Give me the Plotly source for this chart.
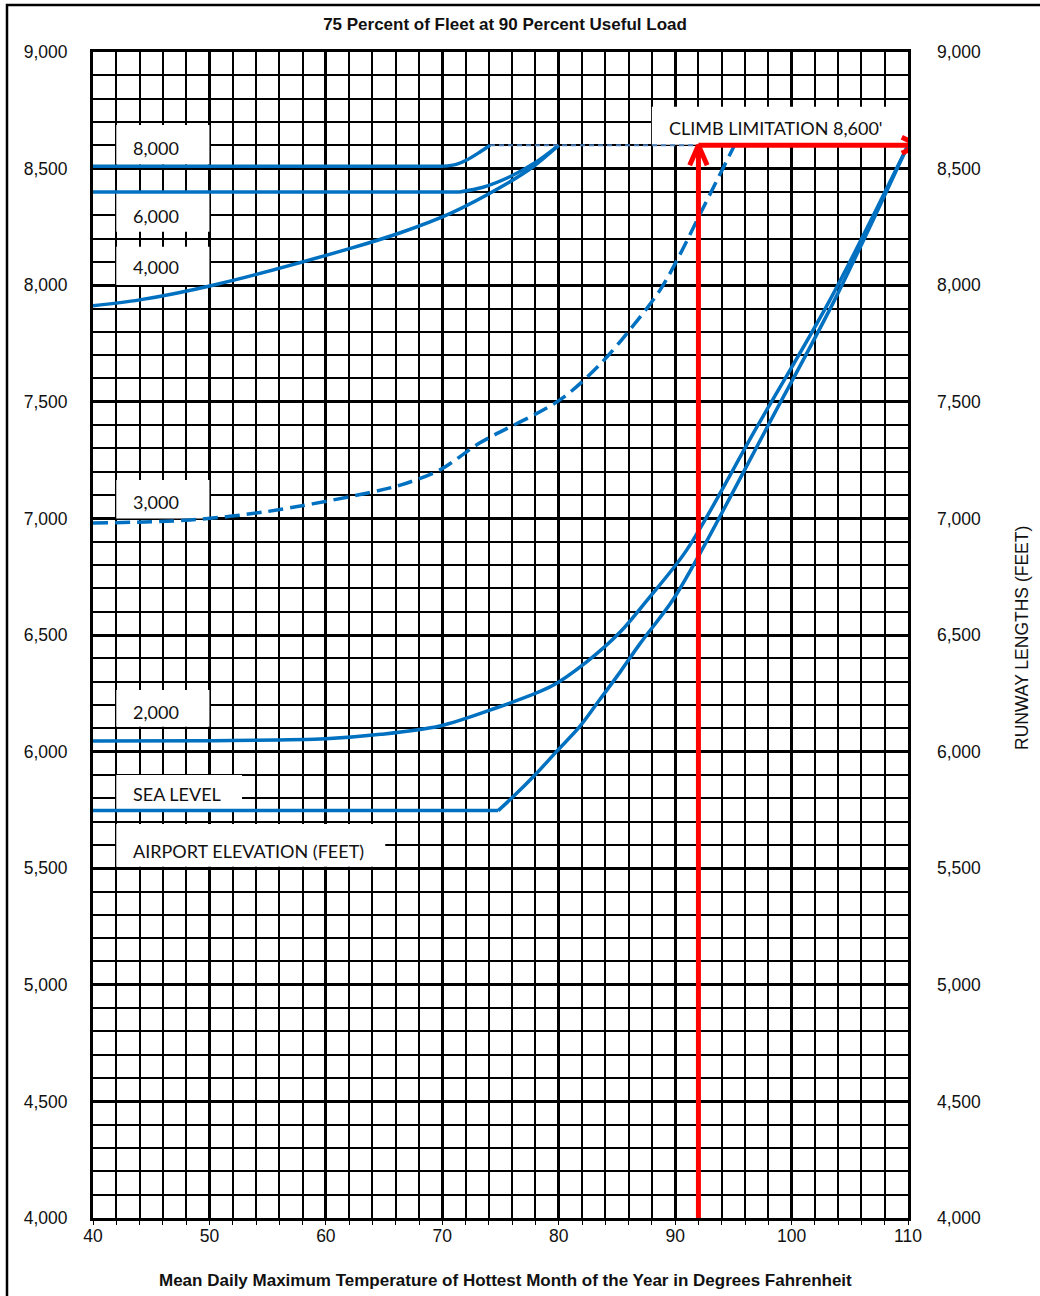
import plotly.graph_objects as go

# ---- Runway length curves (temperature in deg F, runway length in feet) ----
# sea level: flat run, then the rising branch from the corner at 74.8 F
sea_flat_temp = [40, 60, 70, 74.8]
sea_flat_len = [5747, 5747, 5747, 5747]
sea_rise_temp = [74.8, 76.1, 78.1, 79.8, 81.8, 83.5, 85.3, 87.0, 89.8, 92.3, 98.0, 103.7, 110]
sea_rise_len = [5747, 5807, 5907, 6000, 6107, 6221, 6343, 6464, 6650, 6865, 7400, 7937, 8600]

elev2000_temp = [40, 50, 60, 64.7, 69.8, 74.1, 79.4, 82.4, 85.3, 87.6, 91.0, 97.0, 103.3, 110]
elev2000_len = [6045, 6047, 6055, 6074, 6110, 6178, 6281, 6385, 6514, 6650, 6865, 7390, 7937, 8600]

elev3000_temp = [40, 48.3, 54.9, 63.5, 66.4, 69.8, 73.2, 80.1, 83.5, 86.1, 88.7, 90.4, 92.1, 95.1]
elev3000_len = [6980, 6993, 7029, 7108, 7143, 7208, 7323, 7508, 7658, 7808, 7979, 8130, 8301, 8600]

elev4000_temp = [40, 44, 50.3, 62.1, 66.4, 70.7, 75.0, 77.8, 80.0]
elev4000_len = [7912, 7937, 8000, 8158, 8225, 8308, 8420, 8508, 8600]

# 6,000 ft and 8,000 ft: flat runs, then the bends up to the climb limit
elev6000_flat_temp = [40, 60, 71.5]
elev6000_flat_len = [8400, 8400, 8400]
elev6000_rise_temp = [71.5, 73.5, 75.8, 78.1, 80.0]
elev6000_rise_len = [8400, 8420, 8465, 8530, 8600]

elev8000_flat_temp = [40, 60, 70.1]
elev8000_flat_len = [8510, 8510, 8510]
elev8000_rise_temp = [70.1, 71.2, 72.1, 73.2, 74.1]
elev8000_rise_len = [8510, 8518, 8537, 8570, 8600]

# Climb limitation and the design temperature read-off
climb_limit = 8600
climb_line_temp = [74.1, 95.1]
design_temp = 92
arrow_end_temp = 110.9

x_ticks = [40, 50, 60, 70, 80, 90, 100, 110]
y_range = [4000, 9000]

BLUE = "#0070C0"
RED = "#FF0000"
LABEL_FONT = dict(family="Lato, Liberation Sans, sans-serif", size=18, color="#111111")
AXIS_FONT = dict(family="Liberation Sans, Arial, sans-serif", size=17.5, color="#111111")
BOLD_FONT = dict(family="Liberation Sans, Arial, sans-serif", size=17, color="#111111", weight="bold")

fig = go.Figure()

curve_line = dict(color=BLUE, width=3.5, shape="spline", smoothing=0.9)
flat_line = dict(color=BLUE, width=3.5)


def add_curve(xs, ys, line):
    fig.add_trace(go.Scatter(x=xs, y=ys, mode="lines", line=line, hoverinfo="skip"))


add_curve(sea_flat_temp, sea_flat_len, flat_line)
add_curve(sea_rise_temp, sea_rise_len, curve_line)
add_curve(elev2000_temp, elev2000_len, curve_line)
add_curve(elev3000_temp, elev3000_len,
          dict(color=BLUE, width=3.5, dash="15px,7px", shape="spline", smoothing=0.9))
add_curve(elev4000_temp, elev4000_len, curve_line)
add_curve(elev6000_flat_temp, elev6000_flat_len, flat_line)
add_curve(elev6000_rise_temp, elev6000_rise_len, curve_line)
add_curve(elev8000_flat_temp, elev8000_flat_len, flat_line)
add_curve(elev8000_rise_temp, elev8000_rise_len, curve_line)

# dotted climb-limit line
add_curve(climb_line_temp, [climb_limit, climb_limit],
          dict(color="#4A7EBB", width=2, dash="5px,4px"))

# red read-off arrows: up from the design temperature, then across at the climb limit
red = dict(color=RED, width=5)
add_curve([design_temp, design_temp], [y_range[0], climb_limit], red)
add_curve([design_temp, arrow_end_temp], [climb_limit, climb_limit], red)
# open chevron heads
head_dx, head_dy = 0.75, 86
add_curve([design_temp - head_dx, design_temp, design_temp + head_dx],
          [climb_limit - head_dy, climb_limit, climb_limit - head_dy], red)
side_dx, side_dy = 1.43, 34
add_curve([arrow_end_temp - side_dx, arrow_end_temp, arrow_end_temp - side_dx],
          [climb_limit + side_dy, climb_limit, climb_limit - side_dy], red)

# invisible trace to carry the right-hand axis
fig.add_trace(go.Scatter(x=[x_ticks[0]], y=[y_range[0]], yaxis="y2", mode="markers",
                         marker=dict(opacity=0), hoverinfo="skip"))

# white label boxes: (text, x0, x1, y0, y1, text x, text y)
labels = [
    ("8,000", 42, 50, 8518, 8687, 43.3, 8590),
    ("6,000", 42, 50, 8229, 8397, 43.3, 8297),
    ("4,000", 42, 50, 8001, 8165, 43.3, 8077),
    ("3,000", 42, 50, 7000, 7165, 43.3, 7072),
    ("2,000", 42, 50, 6107, 6264, 43.3, 6171),
    ("SEA LEVEL", 42, 52.8, 5752, 5900, 43.3, 5817),
    ("AIRPORT ELEVATION (FEET)", 42, 65.1, 5506, 5690, 43.3, 5575),
    ("CLIMB LIMITATION 8,600'", 88, 110, 8602, 8765, 89.3, 8673),
]

shapes = []
annotations = []
for text, x0, x1, y0, y1, tx, ty in labels:
    shapes.append(dict(type="rect", xref="x", yref="y", x0=x0, x1=x1, y0=y0, y1=y1,
                       fillcolor="white", line=dict(width=0), layer="between"))
    annotations.append(dict(x=tx, y=ty, xref="x", yref="y", text=text, showarrow=False,
                            xanchor="left", yanchor="middle", font=LABEL_FONT))

W, H = 1040, 1296
L, R, T, B = 93, 132, 52, 78
pw, ph = W - L - R, H - T - B


def px_x(p):
    return (p - L) / pw


def px_y(p):
    return (H - B - p) / ph


# outer frame of the whole chart
shapes.append(dict(type="rect", xref="paper", yref="paper",
                   x0=px_x(7), x1=px_x(W + 10), y0=px_y(H + 10), y1=px_y(5),
                   line=dict(color="black", width=2.5), fillcolor="rgba(0,0,0,0)", layer="above"))

annotations.append(dict(xref="paper", yref="paper", x=px_x(505), y=px_y(1280),
                        text="Mean Daily Maximum Temperature of Hottest Month of the Year in Degrees Fahrenheit",
                        showarrow=False, xanchor="center", yanchor="middle", font=BOLD_FONT))
annotations.append(dict(xref="paper", yref="paper", x=px_x(1022), y=px_y(638),
                        text="RUNWAY LENGTHS (FEET)", textangle=-90, showarrow=False,
                        xanchor="center", yanchor="middle", font=AXIS_FONT))

fig.update_layout(
    width=W, height=H,
    margin=dict(l=L, r=R, t=T, b=B),
    paper_bgcolor="white", plot_bgcolor="white",
    showlegend=False,
    title=dict(text="75 Percent of Fleet at 90 Percent Useful Load",
               x=px_x(505), xref="paper", y=1 - 24 / H, yref="container",
               xanchor="center", yanchor="middle", font=BOLD_FONT),
    xaxis=dict(range=[x_ticks[0], x_ticks[-1]], tickvals=x_ticks, showgrid=True,
               gridcolor="black", gridwidth=3, zeroline=False,
               showline=True, linecolor="black", linewidth=3, mirror=True,
               ticks="",
               minor=dict(dtick=2, tick0=40, showgrid=True, gridcolor="black", gridwidth=2,
                          ticks="outside", ticklen=4, tickwidth=1, tickcolor="black"),
               tickfont=AXIS_FONT, fixedrange=True),
    yaxis=dict(range=y_range, dtick=500, tick0=4000, tickformat=",", showgrid=True,
               gridcolor="black", gridwidth=3, zeroline=False,
               showline=True, linecolor="black", linewidth=3, mirror=True,
               ticks="", ticklabelstandoff=19,
               minor=dict(dtick=100, tick0=4000, showgrid=True, gridcolor="black", gridwidth=2),
               tickfont=AXIS_FONT, fixedrange=True),
    yaxis2=dict(range=y_range, dtick=500, tick0=4000, tickformat=",", overlaying="y",
                side="right", showgrid=False, zeroline=False, showline=False,
                ticks="", ticklabelstandoff=28, tickfont=AXIS_FONT, fixedrange=True),
    shapes=shapes,
    annotations=annotations,
)

fig.write_html("out.html")
